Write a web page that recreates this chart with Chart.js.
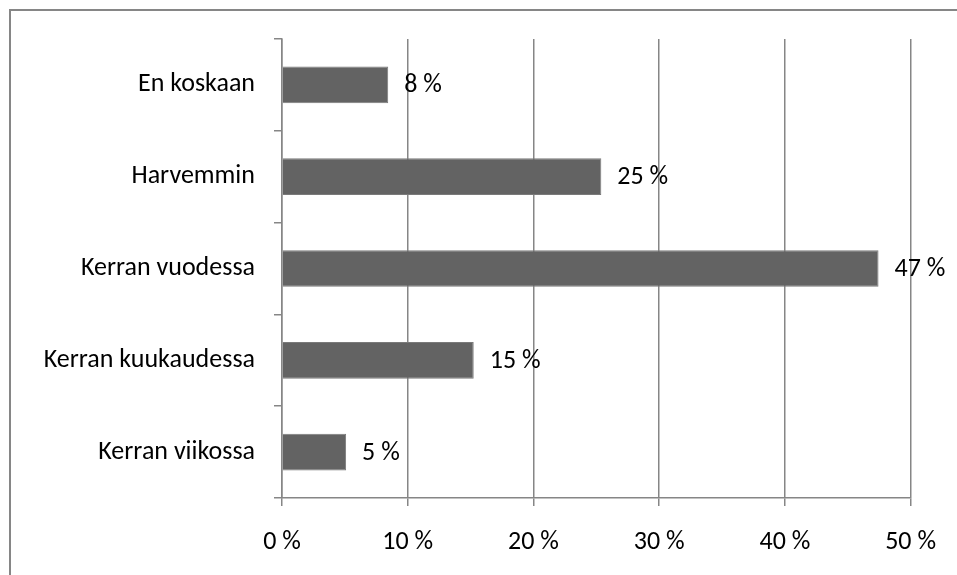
<!DOCTYPE html>
<html>
<head>
<meta charset="utf-8">
<script src="https://cdn.jsdelivr.net/npm/chart.js@4.4.1/dist/chart.umd.min.js"></script>
<style>
  html, body { margin: 0; padding: 0; background: #fff; }
  #wrap { width: 957px; height: 575px; }
</style>
</head>
<body>
<div id="wrap"><canvas id="chart"></canvas></div>
<script>
// kategoriat ja arvot (prosentteja)
const categories = ['En koskaan', 'Harvemmin', 'Kerran vuodessa', 'Kerran kuukaudessa', 'Kerran viikossa'];
const values = [8.45, 25.4, 47.45, 15.25, 5.1];
const xTicks = [0, 10, 20, 30, 40, 50];

const fontFamily = 'Carlito, Calibri, Lato, sans-serif';
const fontSize = 26;
const gridColor = '#868686';

// kehys kaavion ympärille
const framePlugin = {
  id: 'frame',
  beforeDraw(chart) {
    const ctx = chart.ctx;
    ctx.save();
    ctx.strokeStyle = gridColor;
    ctx.lineWidth = 2;
    ctx.strokeRect(10, 10, chart.width + 20, chart.height + 20);
    ctx.restore();
  }
};

// arvot palkkien perään
const valueLabels = {
  id: 'valueLabels',
  afterDatasetsDraw(chart) {
    const ctx = chart.ctx;
    const meta = chart.getDatasetMeta(0);
    ctx.save();
    ctx.font = fontSize + 'px ' + fontFamily;
    ctx.fillStyle = '#000';
    ctx.textAlign = 'left';
    ctx.textBaseline = 'middle';
    meta.data.forEach((bar, i) => {
      ctx.fillText(Math.round(values[i]) + ' %', bar.x + 16, bar.y + 1);
    });
    ctx.restore();
  }
};

const ctx = document.getElementById('chart').getContext('2d');
new Chart(ctx, {
  type: 'bar',
  data: {
    labels: categories,
    datasets: [{
      data: values,
      backgroundColor: '#636363',
      borderColor: '#7a7a7a',
      borderWidth: 1,
      borderSkipped: 'start',
      barPercentage: 0.4,
      categoryPercentage: 1
    }]
  },
  options: {
    indexAxis: 'y',
    responsive: true,
    maintainAspectRatio: false,
    animation: false,
    layout: { padding: { top: 39, right: 42, left: 0, bottom: 0 } },
    plugins: {
      legend: { display: false },
      tooltip: { enabled: false }
    },
    scales: {
      x: {
        min: 0,
        max: 50,
        afterBuildTicks(scale) {
          scale.ticks = xTicks.map(v => ({ value: v }));
        },
        afterFit(scale) { scale.height = 77; },
        grid: { color: gridColor, lineWidth: 1.5, tickLength: 8, drawTicks: true },
        border: { display: true, color: gridColor, width: 1.5 },
        ticks: {
          color: '#000',
          padding: 21,
          maxRotation: 0,
          font: { family: fontFamily, size: fontSize },
          callback: v => v + ' %'
        }
      },
      y: {
        afterFit(scale) { scale.width = 282; },
        grid: { display: true, drawOnChartArea: false, offset: true, tickLength: 8, color: gridColor, lineWidth: 1.5 },
        border: { display: true, color: gridColor, width: 1.5 },
        ticks: {
          color: '#000',
          padding: 19,
          font: { family: fontFamily, size: fontSize }
        }
      }
    }
  },
  plugins: [framePlugin, valueLabels]
});
</script>
</body>
</html>
